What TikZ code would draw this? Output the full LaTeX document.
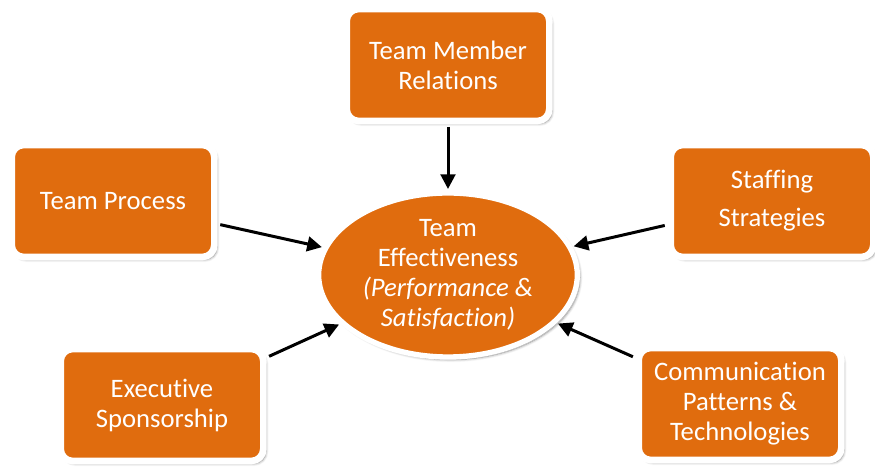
\documentclass[tikz,border=0pt]{standalone}
\usepackage{fontspec}
\setmainfont{Carlito}[Ligatures=NoCommon]
\usepackage{xcolor}
\usetikzlibrary{arrows.meta,shapes.geometric,shadows.blur}
\definecolor{factorange}{RGB}{224,108,14}

\begin{document}
\begin{tikzpicture}[x=0.75pt,y=0.75pt,
  factor/.style={rectangle, rounded corners=9pt, fill=factorange, draw=white,
    line width=5pt, minimum width=152pt, minimum height=84pt, inner sep=2pt,
    align=center, text=white, font=\fontsize{20}{22.5}\selectfont,
    blur shadow={shadow xshift=2pt, shadow yshift=-2pt, shadow opacity=45, shadow blur steps=6}},
  goal/.style={ellipse, fill=factorange, draw=white, line width=4pt,
    minimum width=194pt, minimum height=123pt, inner sep=0pt,
    align=center, text=white, font=\fontsize{20}{22.5}\selectfont,
    blur shadow={shadow xshift=2pt, shadow yshift=-2pt, shadow opacity=45, shadow blur steps=6}},
  link/.style={-{Triangle[length=11pt,width=11pt]}, line width=2.25pt,
    shorten <=2pt, shorten >=1pt}]
  \useasboundingbox (0,0) rectangle (875,470);

  % centre of the diagram
  \node[goal] (eff) at (448,195) {Team\\Effectiveness\\\textit{(Performance \&}\\\textit{Satisfaction)}};

  % the five factors
  \node[factor] (relations) at (448,405) {Team Member\\Relations};
  \node[factor] (process) at (113,269) {Team Process};
  \node[factor] (staffing) at (772,269) {Staffing\\[6pt]Strategies};
  \node[factor] (sponsor) at (162,65) {Executive\\Sponsorship};
  \node[factor] (comm) at (740,66) {Communication\\Patterns \&\\Technologies};

  \foreach \f in {relations,process,staffing,sponsor,comm} {
    \draw[link] (\f) -- (eff);
  }
\end{tikzpicture}
\end{document}
